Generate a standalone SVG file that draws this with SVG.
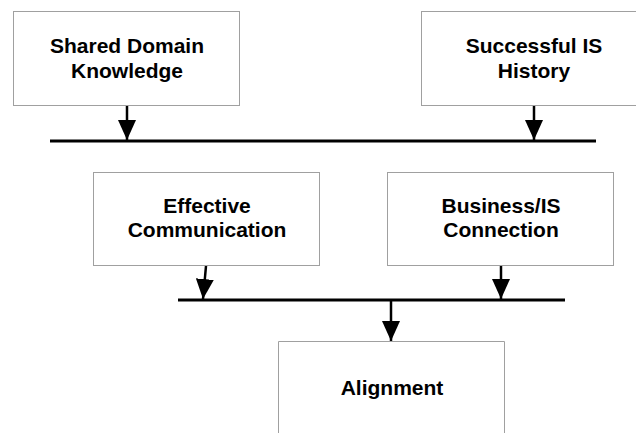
<svg xmlns="http://www.w3.org/2000/svg" width="636" height="433" viewBox="0 0 636 433">
<defs>
<style>
.box{fill:#fff;stroke:#a0a0a0;stroke-width:1}
.lbl{font-family:"Liberation Sans",Arial,sans-serif;font-weight:bold;font-size:21px;fill:#000;text-anchor:middle}
.bar{stroke:#000;stroke-width:3;fill:none}
.arr{stroke:#000;stroke-width:2.5;fill:none}
</style>
<marker id="ah" viewBox="0 0 20 18" refX="20" refY="9" markerWidth="20" markerHeight="18" markerUnits="userSpaceOnUse" orient="auto">
<path d="M0,0 L20,9 L0,18 Z" fill="#000"/>
</marker>
</defs>
<rect width="636" height="433" fill="#fff"/>
<g id="shared-domain-knowledge">
<rect class="box" x="13.5" y="11.5" width="226" height="94"/>
<text class="lbl" x="127" y="53">Shared Domain</text>
<text class="lbl" x="127" y="78">Knowledge</text>
</g>
<g id="successful-is-history">
<rect class="box" x="421.5" y="11.5" width="230" height="94"/>
<text class="lbl" x="534" y="53">Successful IS</text>
<text class="lbl" x="534" y="78">History</text>
</g>
<g id="effective-communication">
<rect class="box" x="93.5" y="172.5" width="226" height="93"/>
<text class="lbl" x="207" y="213">Effective</text>
<text class="lbl" x="207" y="237">Communication</text>
</g>
<g id="business-is-connection">
<rect class="box" x="387.5" y="172.5" width="226" height="93"/>
<text class="lbl" x="501" y="213">Business/IS</text>
<text class="lbl" x="501" y="237">Connection</text>
</g>
<g id="alignment">
<path class="box" d="M278.5,440 L278.5,341.5 L504.5,341.5 L504.5,440"/>
<text class="lbl" x="392" y="395">Alignment</text>
</g>
<g id="connectors">
<line class="bar" x1="50" y1="141" x2="596" y2="141"/>
<line class="bar" x1="178" y1="300" x2="565" y2="300"/>
<line class="arr" x1="127" y1="106" x2="127" y2="140" marker-end="url(#ah)"/>
<line class="arr" x1="534" y1="106" x2="534" y2="140" marker-end="url(#ah)"/>
<line class="arr" x1="206" y1="266" x2="203" y2="299" marker-end="url(#ah)"/>
<line class="arr" x1="501" y1="266" x2="501" y2="299" marker-end="url(#ah)"/>
<line class="arr" x1="391" y1="301" x2="391" y2="341" marker-end="url(#ah)"/>
</g>
</svg>
